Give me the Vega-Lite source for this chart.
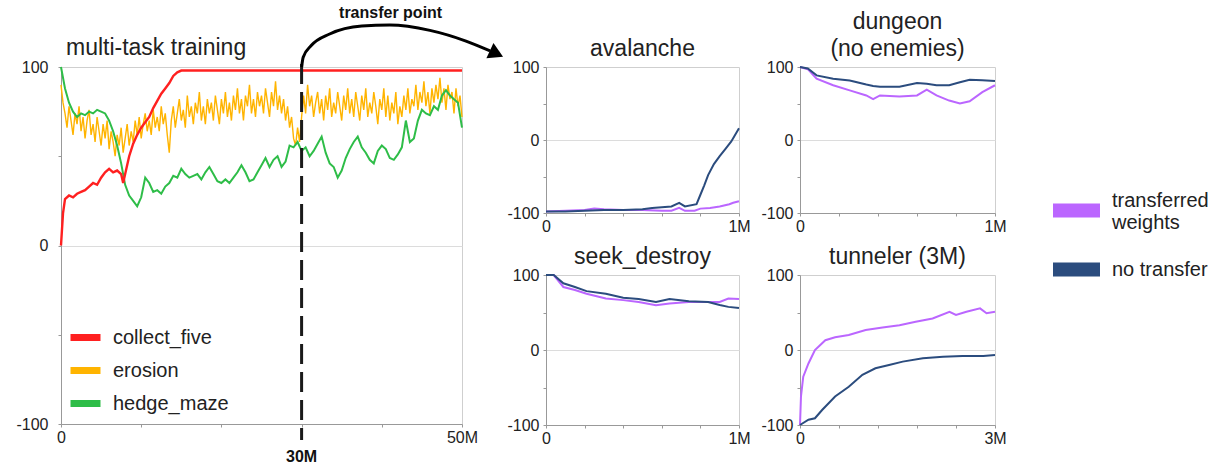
{
"$schema":"https://vega.github.io/schema/vega-lite/v6.json",
"background":"white",
"padding":{"left":15,"top":4,"right":5,"bottom":0},
"bounds":"flush",
"spacing":84,
"resolve":{"scale":{"color":"independent","x":"independent","y":"independent"}},
"datasets":{
"erosion":[{"t":0,"v":90},{"t":0.25,"v":80},{"t":0.5,"v":74},{"t":0.75,"v":66},{"t":1,"v":78},{"t":1.25,"v":70},{"t":1.5,"v":62},{"t":1.75,"v":74},{"t":2,"v":68},{"t":2.25,"v":78},{"t":2.5,"v":64},{"t":2.75,"v":72},{"t":3,"v":60},{"t":3.25,"v":70},{"t":3.5,"v":76},{"t":3.75,"v":62},{"t":4,"v":68},{"t":4.25,"v":58},{"t":4.5,"v":72},{"t":4.75,"v":64},{"t":5,"v":56},{"t":5.25,"v":68},{"t":5.5,"v":60},{"t":5.75,"v":70},{"t":6,"v":54},{"t":6.25,"v":64},{"t":6.5,"v":58},{"t":6.75,"v":50},{"t":7,"v":62},{"t":7.25,"v":56},{"t":7.5,"v":66},{"t":7.75,"v":52},{"t":8,"v":60},{"t":8.25,"v":68},{"t":8.5,"v":56},{"t":8.75,"v":64},{"t":9,"v":58},{"t":9.25,"v":70},{"t":9.5,"v":62},{"t":9.75,"v":72},{"t":10,"v":60},{"t":10.25,"v":68},{"t":10.5,"v":74},{"t":10.75,"v":64},{"t":11,"v":70},{"t":11.25,"v":62},{"t":11.5,"v":76},{"t":11.75,"v":66},{"t":12,"v":72},{"t":12.25,"v":64},{"t":12.5,"v":78},{"t":12.75,"v":68},{"t":13,"v":74},{"t":13.25,"v":62},{"t":13.5,"v":52},{"t":13.75,"v":70},{"t":14,"v":78},{"t":14.25,"v":66},{"t":14.5,"v":74},{"t":14.75,"v":82},{"t":15,"v":70},{"t":15.25,"v":76},{"t":15.5,"v":66},{"t":15.75,"v":84},{"t":16,"v":72},{"t":16.25,"v":78},{"t":16.5,"v":68},{"t":16.75,"v":80},{"t":17,"v":74},{"t":17.25,"v":86},{"t":17.5,"v":70},{"t":17.75,"v":78},{"t":18,"v":68},{"t":18.25,"v":82},{"t":18.5,"v":74},{"t":18.75,"v":80},{"t":19,"v":70},{"t":19.25,"v":84},{"t":19.5,"v":76},{"t":19.75,"v":68},{"t":20,"v":82},{"t":20.25,"v":74},{"t":20.5,"v":86},{"t":20.75,"v":72},{"t":21,"v":80},{"t":21.25,"v":70},{"t":21.5,"v":84},{"t":21.75,"v":76},{"t":22,"v":88},{"t":22.25,"v":74},{"t":22.5,"v":82},{"t":22.75,"v":70},{"t":23,"v":84},{"t":23.25,"v":78},{"t":23.5,"v":90},{"t":23.75,"v":74},{"t":24,"v":82},{"t":24.25,"v":72},{"t":24.5,"v":86},{"t":24.75,"v":78},{"t":25,"v":84},{"t":25.25,"v":74},{"t":25.5,"v":88},{"t":25.75,"v":80},{"t":26,"v":72},{"t":26.25,"v":86},{"t":26.5,"v":78},{"t":26.75,"v":92},{"t":27,"v":76},{"t":27.25,"v":84},{"t":27.5,"v":74},{"t":27.75,"v":82},{"t":28,"v":70},{"t":28.25,"v":78},{"t":28.5,"v":66},{"t":28.75,"v":72},{"t":29,"v":60},{"t":29.25,"v":56},{"t":29.5,"v":66},{"t":29.75,"v":58},{"t":30,"v":72},{"t":30.25,"v":84},{"t":30.5,"v":74},{"t":30.75,"v":90},{"t":31,"v":78},{"t":31.25,"v":84},{"t":31.5,"v":72},{"t":31.75,"v":80},{"t":32,"v":86},{"t":32.25,"v":74},{"t":32.5,"v":82},{"t":32.75,"v":70},{"t":33,"v":84},{"t":33.25,"v":76},{"t":33.5,"v":88},{"t":33.75,"v":72},{"t":34,"v":80},{"t":34.25,"v":74},{"t":34.5,"v":86},{"t":34.75,"v":78},{"t":35,"v":70},{"t":35.25,"v":84},{"t":35.5,"v":76},{"t":35.75,"v":88},{"t":36,"v":74},{"t":36.25,"v":82},{"t":36.5,"v":72},{"t":36.75,"v":86},{"t":37,"v":78},{"t":37.25,"v":70},{"t":37.5,"v":84},{"t":37.75,"v":76},{"t":38,"v":88},{"t":38.25,"v":72},{"t":38.5,"v":80},{"t":38.75,"v":74},{"t":39,"v":86},{"t":39.25,"v":78},{"t":39.5,"v":68},{"t":39.75,"v":82},{"t":40,"v":76},{"t":40.25,"v":88},{"t":40.5,"v":72},{"t":40.75,"v":84},{"t":41,"v":70},{"t":41.25,"v":80},{"t":41.5,"v":74},{"t":41.75,"v":86},{"t":42,"v":68},{"t":42.25,"v":78},{"t":42.5,"v":72},{"t":42.75,"v":84},{"t":43,"v":76},{"t":43.25,"v":88},{"t":43.5,"v":74},{"t":43.75,"v":82},{"t":44,"v":78},{"t":44.25,"v":90},{"t":44.5,"v":76},{"t":44.75,"v":86},{"t":45,"v":80},{"t":45.25,"v":92},{"t":45.5,"v":78},{"t":45.75,"v":86},{"t":46,"v":74},{"t":46.25,"v":88},{"t":46.5,"v":80},{"t":46.75,"v":90},{"t":47,"v":82},{"t":47.25,"v":94},{"t":47.5,"v":80},{"t":47.75,"v":88},{"t":48,"v":76},{"t":48.25,"v":90},{"t":48.5,"v":82},{"t":48.75,"v":86},{"t":49,"v":74},{"t":49.25,"v":88},{"t":49.5,"v":78},{"t":49.75,"v":84},{"t":50,"v":72}],
"hedge_maze":[{"t":0,"v":100},{"t":0.5,"v":88},{"t":1,"v":80},{"t":1.5,"v":75},{"t":2,"v":72},{"t":2.5,"v":74},{"t":3,"v":73},{"t":3.5,"v":75},{"t":4,"v":74},{"t":4.5,"v":76},{"t":5,"v":75},{"t":5.5,"v":74},{"t":6,"v":70},{"t":6.5,"v":64},{"t":7,"v":56},{"t":7.5,"v":46},{"t":8,"v":34},{"t":8.5,"v":28},{"t":9,"v":25},{"t":9.5,"v":22},{"t":10,"v":27},{"t":10.5,"v":38},{"t":11,"v":35},{"t":11.5,"v":30},{"t":12,"v":31},{"t":12.5,"v":29},{"t":13,"v":33},{"t":13.5,"v":35},{"t":14,"v":39},{"t":14.5,"v":38},{"t":15,"v":43},{"t":15.5,"v":40},{"t":16,"v":38},{"t":16.5,"v":39},{"t":17,"v":40},{"t":17.5,"v":37},{"t":18,"v":41},{"t":18.5,"v":44},{"t":19,"v":40},{"t":19.5,"v":36},{"t":20,"v":35},{"t":20.5,"v":37},{"t":21,"v":35},{"t":21.5,"v":38},{"t":22,"v":41},{"t":22.5,"v":45},{"t":23,"v":41},{"t":23.5,"v":36},{"t":24,"v":37},{"t":24.5,"v":41},{"t":25,"v":45},{"t":25.5,"v":49},{"t":26,"v":44},{"t":26.5,"v":48},{"t":27,"v":50},{"t":27.5,"v":44},{"t":28,"v":47},{"t":28.5,"v":56},{"t":29,"v":55},{"t":29.5,"v":58},{"t":30,"v":53},{"t":30.5,"v":55},{"t":31,"v":50},{"t":31.5,"v":53},{"t":32,"v":57},{"t":32.5,"v":61},{"t":33,"v":52},{"t":33.5,"v":46},{"t":34,"v":44},{"t":34.5,"v":38},{"t":35,"v":42},{"t":35.5,"v":49},{"t":36,"v":54},{"t":36.5,"v":58},{"t":37,"v":61},{"t":37.5,"v":55},{"t":38,"v":52},{"t":38.5,"v":48},{"t":39,"v":46},{"t":39.5,"v":53},{"t":40,"v":56},{"t":40.5,"v":54},{"t":41,"v":49},{"t":41.5,"v":48},{"t":42,"v":51},{"t":42.5,"v":55},{"t":43,"v":70},{"t":43.5,"v":58},{"t":44,"v":60},{"t":44.5,"v":70},{"t":45,"v":76},{"t":45.5,"v":74},{"t":46,"v":73},{"t":46.5,"v":78},{"t":47,"v":76},{"t":47.5,"v":84},{"t":48,"v":87},{"t":48.5,"v":84},{"t":49,"v":82},{"t":49.5,"v":80},{"t":50,"v":66}],
"collect_five":[{"t":0,"v":0},{"t":0.25,"v":18},{"t":0.5,"v":26},{"t":1,"v":28},{"t":1.5,"v":27},{"t":2,"v":29},{"t":2.5,"v":30},{"t":3,"v":31},{"t":3.5,"v":33},{"t":4,"v":35},{"t":4.5,"v":34},{"t":5,"v":38},{"t":5.5,"v":41},{"t":6,"v":43},{"t":6.5,"v":41},{"t":7,"v":42},{"t":7.5,"v":40},{"t":7.75,"v":35},{"t":8,"v":40},{"t":8.5,"v":50},{"t":9,"v":57},{"t":9.5,"v":62},{"t":10,"v":66},{"t":10.5,"v":69},{"t":11,"v":72},{"t":11.5,"v":77},{"t":12,"v":81},{"t":12.5,"v":85},{"t":13,"v":88},{"t":13.5,"v":91},{"t":14,"v":95},{"t":14.5,"v":97},{"t":15,"v":98},{"t":20,"v":98},{"t":30,"v":98},{"t":40,"v":98},{"t":50,"v":98}],
"arrow":[{"t":30.0,"v":100},{"t":30.2,"v":105.5},{"t":31.2,"v":112},{"t":33.5,"v":118.5},{"t":37.5,"v":123},{"t":41,"v":123.5},{"t":46,"v":120.5},{"t":50.5,"v":114.5},{"t":53.5,"v":109}],
"avalanche":[{"t":0,"s":"tw","v":-98},{"t":0.1,"s":"tw","v":-97},{"t":0.2,"s":"tw","v":-96},{"t":0.25,"s":"tw","v":-94},{"t":0.3,"s":"tw","v":-95},{"t":0.4,"s":"tw","v":-96},{"t":0.5,"s":"tw","v":-96},{"t":0.6,"s":"tw","v":-97},{"t":0.65,"s":"tw","v":-97},{"t":0.69,"s":"tw","v":-93},{"t":0.72,"s":"tw","v":-97},{"t":0.77,"s":"tw","v":-97},{"t":0.8,"s":"tw","v":-94},{"t":0.85,"s":"tw","v":-93},{"t":0.9,"s":"tw","v":-91},{"t":0.95,"s":"tw","v":-88},{"t":0.97,"s":"tw","v":-86},{"t":1,"s":"tw","v":-84},
{"t":0,"s":"nt","v":-98},{"t":0.1,"s":"nt","v":-98},{"t":0.2,"s":"nt","v":-97},{"t":0.3,"s":"nt","v":-96},{"t":0.4,"s":"nt","v":-96},{"t":0.5,"s":"nt","v":-95},{"t":0.55,"s":"nt","v":-93},{"t":0.6,"s":"nt","v":-92},{"t":0.65,"s":"nt","v":-91},{"t":0.69,"s":"nt","v":-86},{"t":0.72,"s":"nt","v":-91},{"t":0.78,"s":"nt","v":-88},{"t":0.8,"s":"nt","v":-75},{"t":0.82,"s":"nt","v":-62},{"t":0.84,"s":"nt","v":-48},{"t":0.87,"s":"nt","v":-33},{"t":0.9,"s":"nt","v":-22},{"t":0.93,"s":"nt","v":-12},{"t":0.96,"s":"nt","v":-2},{"t":1,"s":"nt","v":16}],
"dungeon":[{"t":0,"s":"tw","v":100},{"t":0.04,"s":"tw","v":97},{"t":0.085,"s":"tw","v":84},{"t":0.17,"s":"tw","v":75},{"t":0.255,"s":"tw","v":68},{"t":0.34,"s":"tw","v":61},{"t":0.375,"s":"tw","v":56},{"t":0.41,"s":"tw","v":61},{"t":0.51,"s":"tw","v":59.5},{"t":0.6,"s":"tw","v":61},{"t":0.65,"s":"tw","v":69},{"t":0.7,"s":"tw","v":61},{"t":0.765,"s":"tw","v":54},{"t":0.82,"s":"tw","v":50},{"t":0.87,"s":"tw","v":53},{"t":0.935,"s":"tw","v":65.5},{"t":1,"s":"tw","v":75},
{"t":0,"s":"nt","v":100},{"t":0.04,"s":"nt","v":98},{"t":0.085,"s":"nt","v":88.5},{"t":0.17,"s":"nt","v":84},{"t":0.255,"s":"nt","v":81.6},{"t":0.34,"s":"nt","v":76},{"t":0.375,"s":"nt","v":74},{"t":0.41,"s":"nt","v":73},{"t":0.51,"s":"nt","v":73},{"t":0.6,"s":"nt","v":78},{"t":0.65,"s":"nt","v":77},{"t":0.7,"s":"nt","v":75},{"t":0.765,"s":"nt","v":75},{"t":0.82,"s":"nt","v":79},{"t":0.87,"s":"nt","v":82.5},{"t":0.935,"s":"nt","v":82},{"t":1,"s":"nt","v":80.7}],
"seek_destroy":[{"t":0,"s":"tw","v":100},{"t":0.04,"s":"tw","v":100},{"t":0.09,"s":"tw","v":84},{"t":0.15,"s":"tw","v":80},{"t":0.21,"s":"tw","v":75},{"t":0.31,"s":"tw","v":68.7},{"t":0.4,"s":"tw","v":66.5},{"t":0.48,"s":"tw","v":64},{"t":0.57,"s":"tw","v":59.7},{"t":0.64,"s":"tw","v":62},{"t":0.74,"s":"tw","v":64},{"t":0.84,"s":"tw","v":64},{"t":0.9,"s":"tw","v":64},{"t":0.945,"s":"tw","v":68.7},{"t":1,"s":"tw","v":68},
{"t":0,"s":"nt","v":100},{"t":0.04,"s":"nt","v":100},{"t":0.09,"s":"nt","v":89},{"t":0.15,"s":"nt","v":84},{"t":0.21,"s":"nt","v":78.5},{"t":0.31,"s":"nt","v":75},{"t":0.4,"s":"nt","v":69.6},{"t":0.48,"s":"nt","v":68},{"t":0.57,"s":"nt","v":64},{"t":0.64,"s":"nt","v":68},{"t":0.74,"s":"nt","v":65},{"t":0.84,"s":"nt","v":64},{"t":0.9,"s":"nt","v":60},{"t":0.945,"s":"nt","v":57.5},{"t":1,"s":"nt","v":56}],
"tunneler":[{"t":0,"s":"tw","v":-100},{"t":0.015,"s":"tw","v":-62},{"t":0.05,"s":"tw","v":-35.5},{"t":0.13,"s":"tw","v":-18},{"t":0.23,"s":"tw","v":0},{"t":0.39,"s":"tw","v":13},{"t":0.54,"s":"tw","v":17},{"t":0.75,"s":"tw","v":20},{"t":1.01,"s":"tw","v":26.7},{"t":1.27,"s":"tw","v":30},{"t":1.53,"s":"tw","v":33},{"t":1.78,"s":"tw","v":37.8},{"t":2.04,"s":"tw","v":42},{"t":2.3,"s":"tw","v":51},{"t":2.4,"s":"tw","v":46.7},{"t":2.56,"s":"tw","v":51},{"t":2.77,"s":"tw","v":55.5},{"t":2.87,"s":"tw","v":49},{"t":3,"s":"tw","v":51},
{"t":0,"s":"nt","v":-100},{"t":0.13,"s":"nt","v":-93},{"t":0.23,"s":"nt","v":-91},{"t":0.34,"s":"nt","v":-80},{"t":0.54,"s":"nt","v":-62},{"t":0.75,"s":"nt","v":-49},{"t":0.96,"s":"nt","v":-33},{"t":1.16,"s":"nt","v":-24.4},{"t":1.37,"s":"nt","v":-20},{"t":1.58,"s":"nt","v":-15.5},{"t":1.89,"s":"nt","v":-11},{"t":2.2,"s":"nt","v":-9},{"t":2.5,"s":"nt","v":-8},{"t":2.82,"s":"nt","v":-8},{"t":3,"s":"nt","v":-6.7}]
},
"hconcat":[
{
"width":401,"height":357,
"layer":[
{"data":{"name":"erosion"},"mark":{"type":"line","strokeWidth":1.4,"clip":false},"encoding":{
"x":{"field":"t","type":"quantitative","scale":{"domain":[0,50],"nice":false},"axis":{"title":null,"values":[0,10,20,30,40,50],"labelExpr":"datum.value==0?'0':datum.value==50?'50M':''"}},
"y":{"field":"v","type":"quantitative","scale":{"domain":[-100,100],"nice":false},"axis":{"title":null,"values":[-100,-50,0,50,100],"labelPadding":10,"labelExpr":"datum.value==100?'100':datum.value==0?'0':datum.value==-100?'-100':''","grid":true,"gridOpacity":{"condition":{"test":"datum.value==0","value":1},"value":0}}},
"color":{"datum":"erosion","type":"nominal","scale":{"domain":["collect_five","erosion","hedge_maze"],"range":["#ff2020","#ffb400","#2ebd48"]},"legend":{"title":null,"orient":"none","legendX":6,"legendY":252,"symbolType":"stroke","symbolSize":900,"symbolStrokeWidth":7,"labelFontSize":20,"labelOffset":9,"rowPadding":0}}}},
{"data":{"name":"hedge_maze"},"mark":{"type":"line","strokeWidth":2,"clip":false},"encoding":{"x":{"field":"t","type":"quantitative"},"y":{"field":"v","type":"quantitative"},"color":{"datum":"hedge_maze","type":"nominal"}}},
{"data":{"name":"collect_five"},"mark":{"type":"line","strokeWidth":2.4,"clip":false},"encoding":{"x":{"field":"t","type":"quantitative"},"y":{"field":"v","type":"quantitative"},"color":{"datum":"collect_five","type":"nominal"}}},
{"data":{"values":[{"label":"transfer"}]},"mark":{"type":"rule","strokeDash":[20,8],"strokeWidth":3,"color":"#1a1a1a","clip":false},"encoding":{"x":{"datum":30,"type":"quantitative"},"y":{"datum":101.7,"type":"quantitative"},"y2":{"datum":-109}}},
{"data":{"name":"arrow"},"mark":{"type":"line","interpolate":"monotone","strokeWidth":3,"color":"#000","clip":false},"encoding":{"x":{"field":"t","type":"quantitative"},"y":{"field":"v","type":"quantitative"}}},
{"data":{"values":[{"label":"head"}]},"mark":{"type":"point","shape":"triangle-right","filled":true,"size":280,"color":"#000","opacity":1,"angle":25,"clip":false},"encoding":{"x":{"datum":54.3,"type":"quantitative"},"y":{"datum":107.5,"type":"quantitative"}}},
{"data":{"values":[{"label":"transfer point"}]},"mark":{"type":"text","fontWeight":"bold","fontSize":16,"color":"#111","baseline":"middle","clip":false},"encoding":{"text":{"field":"label","type":"nominal"},"x":{"datum":41.1,"type":"quantitative"},"y":{"datum":130.3,"type":"quantitative"}}},
{"data":{"values":[{"label":"30M"}]},"mark":{"type":"text","fontWeight":"bold","fontSize":16,"baseline":"top","color":"#111","clip":false},"encoding":{"text":{"field":"label","type":"nominal"},"x":{"datum":30,"type":"quantitative"},"y":{"datum":-114.2,"type":"quantitative"}}},
{"data":{"values":[{"label":"multi-task training"}]},"mark":{"type":"text","fontSize":23,"align":"left","baseline":"alphabetic","color":"#222","clip":false},"encoding":{"text":{"field":"label","type":"nominal"},"x":{"datum":0.62,"type":"quantitative"},"y":{"datum":106.8,"type":"quantitative"}}}
]
},
{
"vconcat":[
{"hconcat":[
{"width":193,"height":146,"title":{"text":"avalanche"},"data":{"name":"avalanche"},"mark":{"type":"line","strokeWidth":2},
"encoding":{
"x":{"field":"t","type":"quantitative","scale":{"domain":[0,1],"nice":false},"axis":{"title":null,"values":[0,0.2,0.4,0.6,0.8,1],"labelExpr":"datum.value==0?'0':datum.value==1?'1M':''"}},
"y":{"field":"v","type":"quantitative","scale":{"domain":[-100,100],"nice":false},"axis":{"title":null,"values":[-100,-50,0,50,100],"labelPadding":4,"labelExpr":"datum.value==100?'100':datum.value==0?'0':datum.value==-100?'-100':''","grid":true,"gridOpacity":{"condition":{"test":"datum.value==0","value":1},"value":0}}},
"color":{"field":"s","type":"nominal","scale":{"domain":["tw","nt"],"range":["#bb66ff","#2b4c7e"]},"legend":{"title":null,"orient":"none","legendX":500,"legendY":113,"symbolType":"stroke","symbolSize":2209,"symbolStrokeWidth":14,"labelFontSize":20,"labelOffset":5,"rowPadding":0,"labelLimit":300,"labelBaseline":{"expr":"datum.value=='tw'?'bottom':'middle'"},"labelExpr":"datum.value=='tw'?['transferred','weights']:'no transfer'"}}
}},
{"width":195,"height":146,"title":{"text":["dungeon","(no enemies)"],"lineHeight":27},"data":{"name":"dungeon"},"mark":{"type":"line","strokeWidth":2},
"encoding":{
"x":{"field":"t","type":"quantitative","scale":{"domain":[0,1],"nice":false},"axis":{"title":null,"values":[0,0.2,0.4,0.6,0.8,1],"labelExpr":"datum.value==0?'0':datum.value==1?'1M':''"}},
"y":{"field":"v","type":"quantitative","scale":{"domain":[-100,100],"nice":false},"axis":{"title":null,"values":[-100,-50,0,50,100],"labelPadding":4,"labelExpr":"datum.value==100?'100':datum.value==0?'0':datum.value==-100?'-100':''","grid":true,"gridOpacity":{"condition":{"test":"datum.value==0","value":1},"value":0}}},
"color":{"field":"s","type":"nominal","scale":{"domain":["tw","nt"],"range":["#bb66ff","#2b4c7e"]},"legend":{"title":null,"orient":"none","legendX":500,"legendY":113,"symbolType":"stroke","symbolSize":2209,"symbolStrokeWidth":14,"labelFontSize":20,"labelOffset":5,"rowPadding":0,"labelLimit":300,"labelBaseline":{"expr":"datum.value=='tw'?'bottom':'middle'"},"labelExpr":"datum.value=='tw'?['transferred','weights']:'no transfer'"}}
}}
],"spacing":61,"bounds":"flush","resolve":{"scale":{"x":"independent","y":"independent"}}},
{"hconcat":[
{"width":193,"height":150,"title":{"text":"seek_destroy"},"data":{"name":"seek_destroy"},"mark":{"type":"line","strokeWidth":2},
"encoding":{
"x":{"field":"t","type":"quantitative","scale":{"domain":[0,1],"nice":false},"axis":{"title":null,"values":[0,0.2,0.4,0.6,0.8,1],"labelExpr":"datum.value==0?'0':datum.value==1?'1M':''"}},
"y":{"field":"v","type":"quantitative","scale":{"domain":[-100,100],"nice":false},"axis":{"title":null,"values":[-100,-50,0,50,100],"labelPadding":4,"labelExpr":"datum.value==100?'100':datum.value==0?'0':datum.value==-100?'-100':''","grid":true,"gridOpacity":{"condition":{"test":"datum.value==0","value":1},"value":0}}},
"color":{"field":"s","type":"nominal","scale":{"domain":["tw","nt"],"range":["#bb66ff","#2b4c7e"]},"legend":{"title":null,"orient":"none","legendX":500,"legendY":113,"symbolType":"stroke","symbolSize":2209,"symbolStrokeWidth":14,"labelFontSize":20,"labelOffset":5,"rowPadding":0,"labelLimit":300,"labelBaseline":{"expr":"datum.value=='tw'?'bottom':'middle'"},"labelExpr":"datum.value=='tw'?['transferred','weights']:'no transfer'"}}
}},
{"width":195,"height":150,"title":{"text":"tunneler (3M)"},"data":{"name":"tunneler"},"mark":{"type":"line","strokeWidth":2},
"encoding":{
"x":{"field":"t","type":"quantitative","scale":{"domain":[0,3],"nice":false},"axis":{"title":null,"values":[0,0.6,1.2,1.8,2.4,3],"labelExpr":"datum.value==0?'0':datum.value==3?'3M':''"}},
"y":{"field":"v","type":"quantitative","scale":{"domain":[-100,100],"nice":false},"axis":{"title":null,"values":[-100,-50,0,50,100],"labelPadding":4,"labelExpr":"datum.value==100?'100':datum.value==0?'0':datum.value==-100?'-100':''","grid":true,"gridOpacity":{"condition":{"test":"datum.value==0","value":1},"value":0}}},
"color":{"field":"s","type":"nominal","scale":{"domain":["tw","nt"],"range":["#bb66ff","#2b4c7e"]},"legend":{"title":null,"orient":"none","legendX":500,"legendY":113,"symbolType":"stroke","symbolSize":2209,"symbolStrokeWidth":14,"labelFontSize":20,"labelOffset":5,"rowPadding":0,"labelLimit":300,"labelBaseline":{"expr":"datum.value=='tw'?'bottom':'middle'"},"labelExpr":"datum.value=='tw'?['transferred','weights']:'no transfer'"}}
}}
],"spacing":61,"bounds":"flush","resolve":{"scale":{"x":"independent","y":"independent"}}}
],
"spacing":208,"bounds":"flush","resolve":{"scale":{"x":"independent","y":"independent"}}
}
],
"config":{
"font":"Liberation Sans",
"view":{"stroke":"#cfcfcf"},
"title":{"fontSize":23,"fontWeight":"normal","frame":"group","color":"#222","offset":-2},
"axis":{"labelFontSize":16,"labelColor":"#222","domainColor":"#999","tickColor":"#999","tickSize":3,"gridColor":"#dcdcdc","labelFlush":false,"labelPadding":2,"labelOverlap":false},
"axisX":{"grid":false},
"legend":{"labelColor":"#222"}
}
}
